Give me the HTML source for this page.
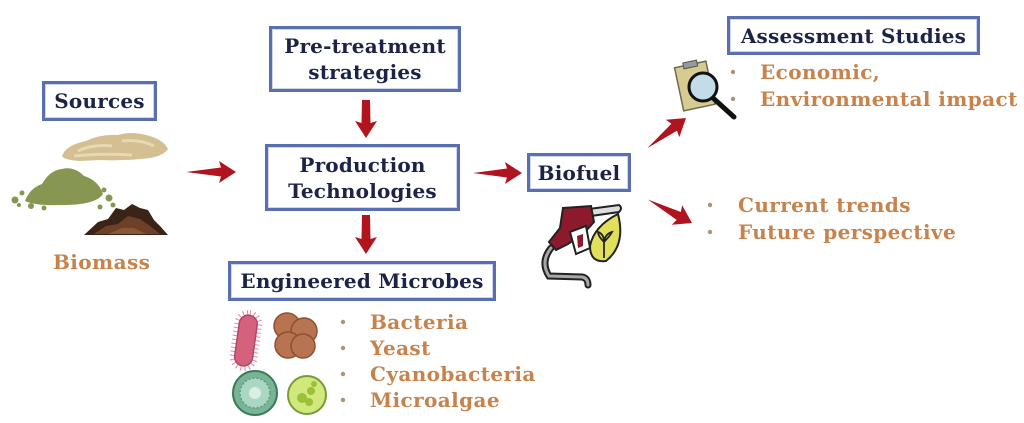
<!DOCTYPE html>
<html>
<head>
<meta charset="utf-8">
<style>
html,body{margin:0;padding:0;background:#fff;}
body{width:1024px;height:423px;position:relative;overflow:hidden;font-family:"DejaVu Serif","Liberation Serif",serif;font-weight:bold;}
.box{position:absolute;box-sizing:border-box;border:3px solid #5a6fb2;box-shadow:inset 0 0 0 1px #cfd6ec;background:#fff;color:#1c2346;font-size:20px;letter-spacing:0.2px;display:flex;flex-direction:column;align-items:center;justify-content:center;line-height:26px;text-align:center;white-space:nowrap;}
.t{position:absolute;font-size:20px;letter-spacing:0.4px;line-height:26px;height:26px;white-space:nowrap;color:#c6834c;}
svg{position:absolute;left:0;top:0;}
</style>
</head>
<body>
<svg width="1024" height="423" viewBox="0 0 1024 423">
  <!-- arrows -->
  <g fill="#b0141f">
    <g transform="translate(236,172)"><polygon points="-50,0 -15,-4.5 -17,-11 0,0 -17,11 -15,4.5"/></g>
    <g transform="translate(366,138) rotate(90)"><polygon points="-38,-4 -15,-4.5 -17,-11 0,0 -17,11 -15,4.5 -38,4"/></g>
    <g transform="translate(366,254) rotate(90)"><polygon points="-39,-4 -15,-4.5 -17,-11 0,0 -17,11 -15,4.5 -39,4"/></g>
    <g transform="translate(522,173)"><polygon points="-49,0 -15,-4.5 -17,-11 0,0 -17,11 -15,4.5"/></g>
    <g transform="translate(686,118) rotate(-38)"><polygon points="-49,0 -15,-4.5 -17,-11 0,0 -17,11 -15,4.5"/></g>
    <g transform="translate(692,223) rotate(28)"><polygon points="-50,0 -15,-4.5 -17,-11 0,0 -17,11 -15,4.5"/></g>
  </g>

  <!-- biomass piles -->
  <path d="M62,156 Q66,145 86,141 Q100,134 118,135 Q130,131 146,135 Q163,139 168,149 Q162,158 140,159 Q120,161 100,160 L80,161 Q64,160 62,156Z" fill="#d3bf92"/>
  <path d="M78,151 Q92,144 112,146 M122,141 Q140,139 154,146 M74,156 Q100,153 132,155" stroke="#e6d9b4" stroke-width="3" fill="none"/>
  <path d="M25,201 Q30,188 42,184 Q50,170 62,169 Q74,166 84,176 Q98,180 103,194 Q96,205 62,205 Q36,206 25,201Z" fill="#879650"/>
  <g fill="#879650">
    <circle cx="15" cy="200" r="3.5"/><circle cx="22" cy="193" r="2.5"/><circle cx="31" cy="206" r="3"/>
    <circle cx="44" cy="208" r="2.5"/><circle cx="104" cy="190" r="2.5"/><circle cx="109" cy="198" r="3.5"/>
    <circle cx="113" cy="205" r="2.5"/><circle cx="100" cy="207" r="2.5"/><circle cx="19" cy="205" r="2"/>
  </g>
  <path d="M84,235 L98,222 L108,219 L116,208 L124,210 L132,204 L140,208 L148,210 L154,220 L160,226 L168,235Z" fill="#3c2317"/>
  <path d="M94,234 L106,226 L118,224 L128,216 L140,219 L150,226 L160,234Z" fill="#6e4028"/>
  <path d="M108,234 L122,228 L134,228 L146,234Z" fill="#8a5736"/>

  <!-- microbes -->
  <g transform="rotate(8 246 340)">
    <rect x="235" y="313" width="22" height="55" rx="11" fill="none" stroke="#e58aa2" stroke-width="6" stroke-dasharray="1 3"/>
    <rect x="237" y="315" width="18" height="51" rx="9" fill="#d4627c" stroke="#b0476a" stroke-width="1.5"/>
  </g>
  <g fill="#b87450" stroke="#8c5032" stroke-width="1.5">
    <circle cx="287" cy="326" r="13"/><circle cx="304" cy="331" r="13"/>
    <circle cx="288" cy="345" r="13"/><circle cx="303" cy="346" r="12"/>
  </g>
  <circle cx="255" cy="393" r="22" fill="#78b596" stroke="#3c7a5c" stroke-width="2"/>
  <circle cx="255" cy="393" r="15" fill="#a9d7c1" stroke="#5f9a80" stroke-width="1.5" stroke-dasharray="2 2"/>
  <circle cx="255" cy="393" r="6" fill="#d9efe4"/>
  <circle cx="307" cy="395" r="19" fill="#d0e87c" stroke="#7a9a36" stroke-width="2"/>
  <g fill="#9cc03a"><circle cx="302" cy="398" r="5"/><circle cx="311" cy="391" r="4"/><circle cx="309" cy="402" r="4"/><circle cx="314" cy="384" r="3"/></g>

  <!-- fuel icon -->
  <path d="M551,248 Q540,262 549,276 L582,277 Q588,278 588,285" stroke="#222" stroke-width="7" fill="none" stroke-linecap="round"/>
  <path d="M551,248 Q540,262 549,276 L582,277 Q588,278 588,285" stroke="#a8a8a8" stroke-width="3" fill="none" stroke-linecap="round"/>
  <path d="M589,209 L619,205 Q623,208 619,212 L591,216Z" fill="#ddd" stroke="#222" stroke-width="2"/>
  <path d="M563,208 L591,206 L594,222 L585,232 L568,244 L556,250 L549,242 L560,228Z" fill="#8c1a2c" stroke="#222" stroke-width="2"/>
  <path d="M570,232 L586,226 L590,248 L576,254Z" fill="#fff" stroke="#222" stroke-width="2"/>
  <path d="M577,236 L583,234 L583,246 L578,248Z" fill="#8c1a2c"/>
  <path d="M618,214 Q626,245 606,261 Q590,263 590,246 Q594,226 618,214Z" fill="#e2e05a" stroke="#222" stroke-width="2"/>
  <path d="M604,258 L604,238 M604,242 Q598,236 598,232 Q604,234 604,242 M604,242 Q610,236 612,232 Q605,234 604,242" stroke="#222" stroke-width="1.8" fill="none"/>

  <!-- magnifier icon -->
  <g transform="rotate(-12 695 87)">
    <rect x="679" y="64" width="32" height="44" fill="#d6cc92" stroke="#6e6a50" stroke-width="1.5"/>
    <rect x="688" y="61" width="14" height="6" fill="#999" stroke="#555" stroke-width="1"/>
  </g>
  <line x1="713" y1="98" x2="734" y2="117" stroke="#111" stroke-width="5" stroke-linecap="round"/>
  <circle cx="703" cy="87" r="14" fill="#c2dcea" stroke="#111" stroke-width="3"/>

  <!-- bullets -->
  <g fill="#ad9378">
    <circle cx="343" cy="322" r="2.2"/><circle cx="343" cy="348" r="2.2"/><circle cx="343" cy="374" r="2.2"/><circle cx="343" cy="400" r="2.2"/>
    <circle cx="733" cy="72" r="2.2"/><circle cx="733" cy="99" r="2.2"/>
    <circle cx="710" cy="205" r="2.2"/><circle cx="710" cy="232" r="2.2"/>
  </g>
</svg>

<div class="box" style="left:42px;top:81px;width:115px;height:40px;">Sources</div>
<div class="box" style="left:269px;top:26px;width:192px;height:66px;"><div>Pre-treatment</div><div>strategies</div></div>
<div class="box" style="left:265px;top:144px;width:195px;height:67px;"><div>Production</div><div>Technologies</div></div>
<div class="box" style="left:228px;top:261px;width:268px;height:40px;">Engineered Microbes</div>
<div class="box" style="left:527px;top:153px;width:104px;height:39px;">Biofuel</div>
<div class="box" style="left:727px;top:16px;width:253px;height:39px;">Assessment Studies</div>

<div class="t" style="left:53px;top:249px;">Biomass</div>

<div class="t" style="left:370px;top:309px;">Bacteria</div>
<div class="t" style="left:370px;top:335px;">Yeast</div>
<div class="t" style="left:370px;top:361px;">Cyanobacteria</div>
<div class="t" style="left:370px;top:387px;">Microalgae</div>

<div class="t" style="left:760px;top:59px;">Economic,</div>
<div class="t" style="left:760px;top:86px;">Environmental impact</div>

<div class="t" style="left:738px;top:192px;">Current trends</div>
<div class="t" style="left:738px;top:219px;">Future perspective</div>
</body>
</html>
